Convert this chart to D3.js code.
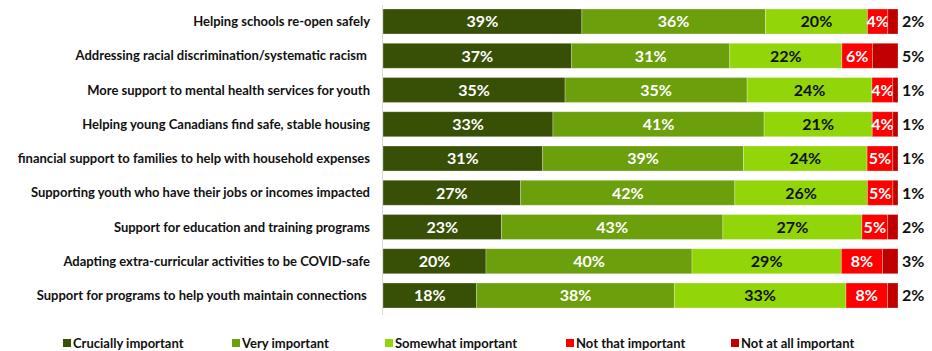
<!DOCTYPE html>
<html>
<head>
<meta charset="utf-8">
<script src="https://cdn.jsdelivr.net/npm/d3@7"></script>
<style>
  html, body { margin: 0; padding: 0; background: #fff; }
  svg { display: block; }
  text { font-family: Lato, "Open Sans", sans-serif; }
</style>
</head>
<body>
<svg id="chart" width="932" height="351"></svg>
<script>
// Priority items, top to bottom
const categories = [
  "Helping schools re-open safely",
  "Addressing racial discrimination/systematic racism ",
  "More support to mental health services for youth",
  "Helping young Canadians find safe, stable housing",
  "financial support to families to help with household expenses",
  "Supporting youth who have their jobs or incomes impacted",
  "Support for education and training programs",
  "Adapting extra-curricular activities to be COVID-safe",
  "Support for programs to help youth maintain connections "
];

const seriesNames = [
  "Crucially important",
  "Very important",
  "Somewhat important",
  "Not that important",
  "Not at all important"
];

// Percentages per response level, in category order
const crucially   = [39, 37, 35, 33, 31, 27, 23, 20, 18];
const very        = [36, 31, 35, 41, 39, 42, 43, 40, 38];
const somewhat    = [20, 22, 24, 21, 24, 26, 27, 29, 33];
const notThat     = [4, 6, 4, 4, 5, 5, 5, 8, 8];
const notAtAll    = [2, 5, 1, 1, 1, 1, 2, 3, 2];

const colors = ["#375006", "#6b9f0b", "#92d508", "#ff0000", "#c00000"];
const labelColors = ["#fff", "#fff", "#111", "#fff", null];

const rows = categories.map((c, i) => {
  const vals = [crucially[i], very[i], somewhat[i], notThat[i], notAtAll[i]];
  const total = d3.sum(vals);
  const r = { category: c, total };
  seriesNames.forEach((s, k) => { r[s] = vals[k] / total; r["raw" + k] = vals[k]; });
  return r;
});

const stacked = d3.stack().keys(seriesNames)(rows);

const svg = d3.select("#chart");
const margin = { left: 383, right: 34, top: 4, bottom: 38 };
const W = 932, H = 351;

const x = d3.scaleLinear().domain([0, 1]).range([margin.left, W - margin.right]);
const y = d3.scaleBand().domain(categories).range([margin.top, H - margin.bottom])
  .paddingInner(0.27).paddingOuter(0.146);

// left axis line
svg.append("line")
  .attr("x1", margin.left - 0.5).attr("x2", margin.left - 0.5)
  .attr("y1", margin.top + 1).attr("y2", H - margin.bottom + 2)
  .attr("stroke", "#d9d9d9").attr("stroke-width", 1);

// category labels
svg.append("g").selectAll("text")
  .data(categories).join("text")
  .attr("x", margin.left - 13)
  .attr("y", d => y(d) + y.bandwidth() / 2)
  .attr("dy", "0.35em")
  .attr("text-anchor", "end")
  .attr("font-size", 13)
  .attr("font-weight", 700)
  .attr("fill", "#111")
  .style("white-space", "pre")
  .text(d => d);

// stacked segments
const layers = svg.append("g").selectAll("g")
  .data(stacked).join("g")
  .attr("fill", (d, k) => colors[k]);

layers.selectAll("rect")
  .data(d => d.map(p => ({ p, key: d.key, k: d.index })))
  .join("rect")
  .attr("x", d => x(d.p[0]))
  .attr("y", d => y(d.p.data.category))
  .attr("width", d => x(d.p[1]) - x(d.p[0]))
  .attr("height", y.bandwidth())
  .attr("stroke", "rgba(255,255,255,0.35)")
  .attr("stroke-width", 0.8);

// value labels inside segments
layers.selectAll("text")
  .data(d => d.filter(() => labelColors[d.index] !== null)
    .map(p => ({ p, k: d.index })))
  .join("text")
  .attr("x", d => (x(d.p[0]) + x(d.p[1])) / 2)
  .attr("y", d => y(d.p.data.category) + y.bandwidth() / 2)
  .attr("dy", "0.36em")
  .attr("text-anchor", "middle")
  .attr("font-size", 16)
  .attr("font-weight", 700)
  .attr("fill", d => labelColors[d.k])
  .text(d => d.p.data["raw" + d.k] + "%");

// "Not at all important" values shown beside the bar
svg.append("g").selectAll("text")
  .data(rows).join("text")
  .attr("x", x(1) + 4)
  .attr("y", d => y(d.category) + y.bandwidth() / 2)
  .attr("dy", "0.36em")
  .attr("font-size", 16)
  .attr("font-weight", 700)
  .attr("fill", "#111")
  .text(d => d.raw4 + "%");

// legend
const legendX = [63, 232, 385, 566, 731];
const legend = svg.append("g").selectAll("g")
  .data(seriesNames).join("g")
  .attr("transform", (d, i) => `translate(${legendX[i]},${343})`);
legend.append("rect")
  .attr("x", 0).attr("y", -4)
  .attr("width", 8).attr("height", 8)
  .attr("fill", (d, i) => colors[i]);
legend.append("text")
  .attr("x", 10).attr("y", 0).attr("dy", "0.35em")
  .attr("font-size", 13)
  .attr("font-weight", 700)
  .attr("fill", "#111")
  .text(d => d);
</script>
</body>
</html>
